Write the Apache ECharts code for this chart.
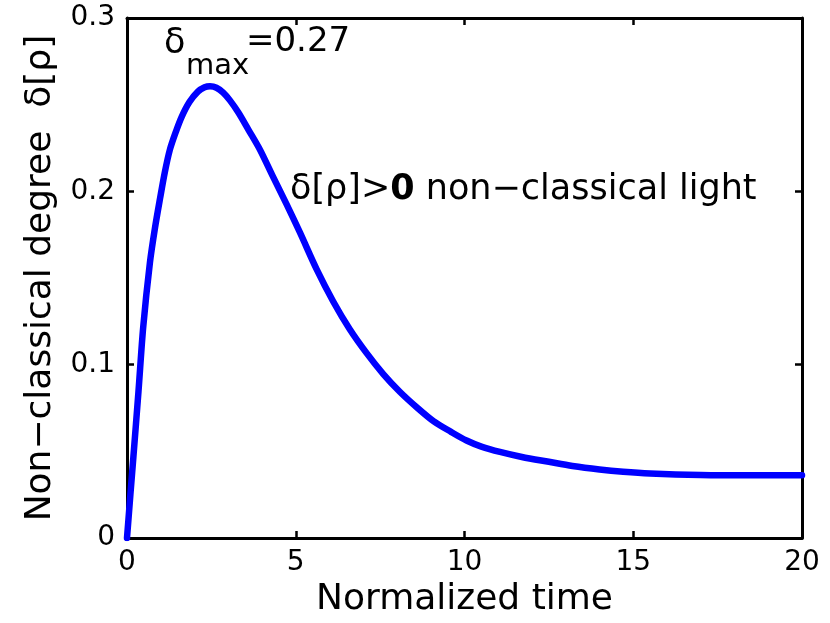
<!DOCTYPE html>
<html>
<head>
<meta charset="utf-8">
<script src="https://cdn.jsdelivr.net/npm/echarts@6/dist/echarts.min.js"></script>
<style>html,body{margin:0;padding:0;background:#fff;}#c{width:830px;height:623px;}</style>
</head>
<body>
<div id="c"></div>
<script>
var timeValues = [0, 0.1, 0.19, 0.34, 0.48, 0.68, 0.83, 0.98, 1.12, 1.27, 1.45, 1.62, 1.85, 2.1, 2.3, 2.46, 2.65, 2.85, 3.05, 3.3, 3.6, 3.94, 4.3, 4.73, 5.13, 5.62, 6.11, 6.6, 7.10, 7.6, 8.09, 8.6, 9.08, 9.6, 10.06, 10.5, 11.05, 11.7, 12.5, 13.2, 14.0, 14.7, 15.5, 17.0, 18.5, 20];
var degreeValues = [0, 0.025, 0.047, 0.0845, 0.1216, 0.159, 0.179, 0.196, 0.211, 0.224, 0.2345, 0.243, 0.2515, 0.2575, 0.2600, 0.2606, 0.2598, 0.2570, 0.2525, 0.2455, 0.2355, 0.224, 0.2095, 0.1925, 0.176, 0.155, 0.1365, 0.1205, 0.1067, 0.0945, 0.0843, 0.0752, 0.0675, 0.0613, 0.0563, 0.0528, 0.0497, 0.0468, 0.0440, 0.0416, 0.0396, 0.0383, 0.0373, 0.0364, 0.0362, 0.0362];
var xTicks = [0, 5, 10, 15, 20];
var yTicks = [0, 0.1, 0.2, 0.3];

var FONT = 'DejaVu Sans';
var chart = echarts.init(document.getElementById('c'));
var seriesData = timeValues.map(function (t, i) { return [t, degreeValues[i]]; });

var axisLineStyle = { color: '#000', width: 3 };
var tickStyle = { show: true, inside: true, length: 7, lineStyle: { color: '#000', width: 2.5 } };

chart.setOption({
  backgroundColor: '#fff',
  animation: false,
  grid: { left: 127, right: 28, top: 18, bottom: 69, containLabel: false },
  xAxis: [{
    type: 'value', min: 0, max: 20, interval: 5,
    name: 'Normalized time', nameLocation: 'middle', nameGap: 27,
    nameTextStyle: { fontFamily: FONT, fontSize: 36, color: '#000' },
    axisLine: { show: true, onZero: false, lineStyle: axisLineStyle },
    axisTick: tickStyle,
    splitLine: { show: false },
    axisLabel: { fontFamily: FONT, fontSize: 28, color: '#000', margin: 11,
      formatter: function (v) { return xTicks.indexOf(v) >= 0 ? String(v) : ''; } }
  }, {
    type: 'value', min: 0, max: 20, interval: 5, position: 'top',
    axisLine: { show: true, onZero: false, lineStyle: axisLineStyle },
    axisTick: tickStyle, axisLabel: { show: false }, splitLine: { show: false }
  }],
  yAxis: [{
    type: 'value', min: 0, max: 0.3, interval: 0.1,
    name: 'Non\u2212classical degree  \u03b4[\u03c1]', nameLocation: 'middle', nameGap: 68,
    nameTextStyle: { fontFamily: FONT, fontSize: 36, color: '#000' },
    axisLine: { show: true, onZero: false, lineStyle: axisLineStyle },
    axisTick: tickStyle,
    splitLine: { show: false },
    axisLabel: { fontFamily: FONT, fontSize: 28, color: '#000', margin: 12,
      formatter: function (v) {
        var r = Math.round(v * 10) / 10;
        return yTicks.indexOf(r) >= 0 ? String(r) : '';
      } }
  }, {
    type: 'value', min: 0, max: 0.3, interval: 0.1, position: 'right',
    axisLine: { show: true, onZero: false, lineStyle: axisLineStyle },
    axisTick: tickStyle, axisLabel: { show: false }, splitLine: { show: false }
  }],
  graphic: [
    { type: 'text', left: 164, top: 26, style: { text: '\u03b4', font: '35px "DejaVu Sans"', fill: '#000' } },
    { type: 'text', left: 186, top: 52, style: { text: 'max', font: '29px "DejaVu Sans"', fill: '#000' } },
    { type: 'text', left: 246, top: 25, style: { text: '=0.27', font: '34px "DejaVu Sans"', fill: '#000' } },
    { type: 'text', left: 290, top: 172, style: {
      text: '{a|\u03b4[\u03c1]>}{b|0}{a| non\u2212classical light}',
      rich: {
        a: { fontFamily: FONT, fontSize: 35, fill: '#000', color: '#000' },
        b: { fontFamily: FONT, fontSize: 35, fontWeight: 'bold', fill: '#000', color: '#000' }
      }
    } }
  ],
  series: [{
    type: 'line', data: seriesData, smooth: 0.3, showSymbol: false, symbol: 'none',
    lineStyle: { color: '#0000ff', width: 6.5, join: 'round', cap: 'round' }, clip: true, z: 1
  }]
});
</script>
</body>
</html>
